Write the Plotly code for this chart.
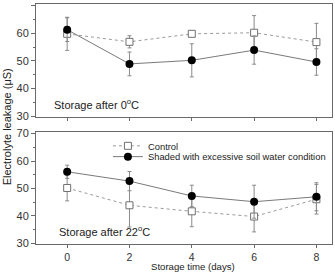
import plotly.graph_objects as go

days = [0, 2, 4, 6, 8]

# Top panel: storage after 0 °C
top_control = [59.8, 56.9, 59.8, 60.2, 56.8]
top_control_err = [6.0, 2.2, 0.8, 6.2, 6.8]
top_shaded = [61.3, 48.9, 50.2, 53.9, 49.6]
top_shaded_err = [4.3, 4.3, 6.0, 5.1, 4.8]

# Bottom panel: storage after 22 °C
bot_control = [50.2, 43.9, 41.7, 39.8, 46.1]
bot_control_err = [4.7, 7.9, 5.6, 5.6, 5.4]
bot_shaded = [56.1, 52.7, 47.3, 45.2, 47.0]
bot_shaded_err = [2.4, 3.5, 3.9, 6.0, 5.1]

y_ticks = [30, 40, 50, 60, 70]
x_ticks = [0, 2, 4, 6, 8]

FONT = "Liberation Sans, Arial, sans-serif"
AX = "#6a6a6a"

fig = go.Figure()

def add_pair(xa, ya, ctrl, cerr, shd, serr, show):
    fig.add_trace(go.Scatter(
        x=days, y=ctrl, name="Control", mode="lines+markers",
        xaxis=xa, yaxis=ya, showlegend=show, legend="legend",
        line=dict(color="#9a9a9a", width=1, dash="dot"),
        marker=dict(symbol="square", size=7, color="white",
                    line=dict(color="#707070", width=1)),
        error_y=dict(type="data", array=cerr, visible=True,
                     color="#8a8a8a", thickness=1, width=2),
    ))
    fig.add_trace(go.Scatter(
        x=days, y=shd, name="Shaded with excessive soil water condition",
        mode="lines+markers", xaxis=xa, yaxis=ya, showlegend=show, legend="legend2",
        line=dict(color="#7a7a7a", width=1),
        marker=dict(symbol="circle", size=8, color="black",
                    line=dict(color="black", width=0)),
        error_y=dict(type="data", array=serr, visible=True,
                     color="#8a8a8a", thickness=1, width=2),
    ))

add_pair("x2", "y2", top_control, top_control_err, top_shaded, top_shaded_err, False)
add_pair("x", "y", bot_control, bot_control_err, bot_shaded, bot_shaded_err, True)

common_x = dict(range=[-1, 8.5], tickvals=x_ticks, ticks="outside", ticklen=3,
                tickcolor=AX, showline=True, linecolor=AX, linewidth=1,
                mirror=True, showgrid=False, zeroline=False,
                tickfont=dict(family=FONT, size=10.5, color="#333"))
common_y = dict(tickvals=y_ticks, ticks="outside", ticklen=4, tickcolor=AX,
                showline=True, linecolor=AX, linewidth=1, mirror=True,
                showgrid=False, zeroline=False,
                minor=dict(tickvals=[35, 45, 55, 65], ticks="outside",
                           ticklen=2, tickcolor=AX),
                tickfont=dict(family=FONT, size=11, color="#333"))

legend_common = dict(xanchor="left", yanchor="middle", bgcolor="rgba(0,0,0,0)",
                     font=dict(family=FONT, size=9.4, color="#222"),
                     tracegroupgap=0, itemwidth=30, borderwidth=0)

fig.update_layout(
    width=335, height=273,
    margin=dict(l=36, r=3, t=3.5, b=29, autoexpand=False),
    paper_bgcolor="white", plot_bgcolor="white",
    font=dict(family=FONT, size=11, color="#222"),
    xaxis=dict(domain=[0, 1], anchor="y", **common_x),
    yaxis=dict(domain=[0, 0.468], anchor="x", range=[29.8, 70.7], **common_y),
    xaxis2=dict(domain=[0, 1], anchor="y2", showticklabels=False, **common_x),
    yaxis2=dict(domain=[0.530, 1.0], anchor="x2", range=[29.75, 70.6], **common_y),
    legend=dict(x=0.243, y=0.409, **legend_common),
    legend2=dict(x=0.243, y=0.364, **legend_common),
    showlegend=True,
)

fig.add_annotation(text="Storage after 0<sup>o</sup>C", xref="x2", yref="y2",
                   x=-0.5, y=34.5, xanchor="left", yanchor="middle", showarrow=False,
                   font=dict(family=FONT, size=11, color="#222"))
fig.add_annotation(text="Storage after 22<sup>o</sup>C", xref="x", yref="y",
                   x=-0.33, y=34.5, xanchor="left", yanchor="middle", showarrow=False,
                   font=dict(family=FONT, size=11, color="#222"))
fig.add_annotation(text="Electrolyte leakage (\u03bcS)", xref="paper", yref="paper",
                   x=-0.095, y=0.49, textangle=-90, showarrow=False,
                   xanchor="center", yanchor="middle",
                   font=dict(family=FONT, size=11, color="#222"))
fig.add_annotation(text="Storage time (days)", xref="paper", yref="paper",
                   x=0.53, y=-29 / 240.5, showarrow=False, xanchor="center", yanchor="bottom",
                   borderpad=0, font=dict(family=FONT, size=9.6, color="#222"))

fig.write_html("out.html")
